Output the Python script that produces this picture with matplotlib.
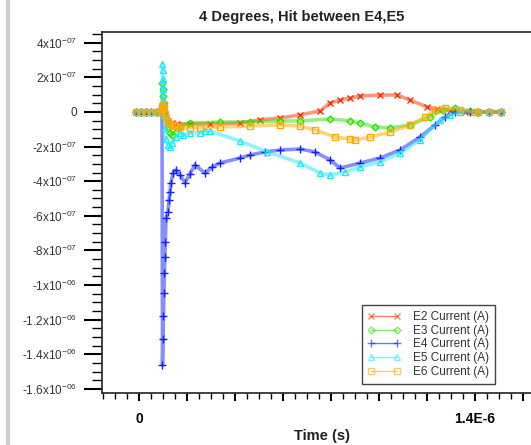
import numpy as np
import matplotlib
matplotlib.use('Agg')
import matplotlib.pyplot as plt
import matplotlib.ticker as ticker
from matplotlib.lines import Line2D

plt.rcParams['font.family'] = ['Liberation Sans', 'DejaVu Sans']
plt.rcParams['mathtext.fontset'] = 'custom'
plt.rcParams['mathtext.rm'] = 'Liberation Sans'
plt.rcParams['mathtext.default'] = 'regular'

# time in microseconds, currents in units of 1e-8 A
t_e2 = [-0.0125, 0.008, 0.029, 0.050, 0.075, 0.096, 0.100, 0.108, 0.121, 0.1375, 0.158, 0.2125,
        0.296, 0.421, 0.504, 0.5875, 0.671, 0.754, 0.796, 0.8375, 0.879, 0.921, 1.004, 1.075,
        1.129, 1.200, 1.242, 1.296, 1.358, 1.4125, 1.458, 1.508]
e2 = [0, 0, 0, 0, 0, 0, 2.9, -1.7, -5.2, -6.4, -6.9, -6.9,
      -6.9, -6.4, -4.6, -3.5, -1.7, 0.6, 5.2, 6.9, 8.1, 9.2, 9.8, 9.8,
      6.9, 2.9, 1.7, 0.6, 0, 0, 0, 0]

t_e3 = [-0.0125, 0.008, 0.029, 0.050, 0.075, 0.096, 0.098, 0.100, 0.102, 0.104, 0.108, 0.121,
        0.129, 0.1375, 0.154, 0.171, 0.2125, 0.3375, 0.4625, 0.5875, 0.671, 0.796, 0.879, 0.921,
        0.983, 1.046, 1.129, 1.2125, 1.267, 1.317, 1.379, 1.4125, 1.458, 1.508]
e3 = [0, 0, 0, 0, 0, 0, 16.8, 13.0, 9.0, 5.0, -1.7, -9.2,
      -12.1, -13.3, -11.6, -8.1, -6.4, -5.8, -5.8, -5.2, -5.2, -4.0, -5.2, -6.4,
      -8.7, -9.2, -7.5, -2.9, 1.2, 2.3, 0.6, 0, 0, 0]

t_e4 = [-0.0125, 0.008, 0.029, 0.050, 0.075, 0.096, 0.098, 0.100, 0.102, 0.104, 0.106, 0.108,
        0.110, 0.1125, 0.121, 0.125, 0.129, 0.133, 0.142, 0.154, 0.171, 0.192, 0.2125, 0.233,
        0.275, 0.304, 0.3375, 0.421, 0.4625, 0.525, 0.5875, 0.671, 0.733, 0.796, 0.8375, 0.921,
        1.004, 1.0875, 1.171, 1.233, 1.275, 1.317, 1.379, 1.4125, 1.458, 1.508]
e4 = [0, 0, 0, 0, 0, 0, -146.2, -131.2, -117.9, -104.6, -93.1, -83.8,
      -75.1, -61.3, -57.8, -50.9, -46.2, -41.0, -35.3, -33.5, -36.4, -41.0, -35.8, -30.6,
      -35.3, -31.8, -29.5, -26.6, -24.9, -23.1, -22.0, -21.4, -23.1, -27.7, -32.4, -29.5,
      -26.6, -22.0, -14.5, -7.5, -2.9, 0, 0, 0, 0, 0]

t_e5 = [-0.0125, 0.008, 0.029, 0.050, 0.075, 0.096, 0.098, 0.099, 0.100, 0.102, 0.104, 0.106,
        0.108, 0.1125, 0.121, 0.129, 0.1375, 0.154, 0.171, 0.183, 0.2125, 0.254, 0.275, 0.296,
        0.421, 0.533, 0.671, 0.754, 0.796, 0.858, 0.921, 1.004, 1.0875, 1.171, 1.254, 1.296,
        1.3375, 1.4125, 1.458, 1.508]
e5 = [0, 0, 0, 0, 0, 0, 27.7, 24.0, 19.0, 13.0, 6.0, -2.0,
      -9.0, -15.6, -19.0, -20.2, -17.9, -14.5, -12.1, -13.3, -12.1, -12.1, -11.0, -11.0,
      -16.8, -23.0, -29.5, -35.3, -36.4, -34.7, -31.8, -28.9, -23.7, -16.2, -4.6, -1.7,
      0, 0, 0, 0]

t_e6 = [-0.0125, 0.008, 0.029, 0.050, 0.075, 0.0875, 0.096, 0.098, 0.100, 0.104, 0.108, 0.1125,
        0.121, 0.129, 0.1375, 0.150, 0.171, 0.2125, 0.254, 0.3375, 0.4625, 0.5875, 0.671, 0.733,
        0.817, 0.879, 0.900, 0.9625, 1.046, 1.129, 1.192, 1.233, 1.275, 1.3375, 1.400, 1.4125,
        1.458, 1.508]
e6 = [0, 0, 0, 0, 0, 0, 0, 3.5, 4.0, 2.3, -1.2, -3.5,
      -5.8, -6.9, -7.5, -8.1, -8.7, -9.2, -9.2, -8.7, -8.1, -7.5, -8.1, -10.4,
      -14.5, -15.6, -16.2, -14.5, -11.6, -7.5, -2.9, 1.2, 2.3, 1.2, 0, 0,
      0, 0]

labels = ['E2 Current (A)', 'E3 Current (A)', 'E4 Current (A)', 'E5 Current (A)', 'E6 Current (A)']
ytick_vals = [4e-7, 2e-7, 0, -2e-7, -4e-7, -6e-7, -8e-7, -1e-6, -1.2e-6, -1.4e-6, -1.6e-6]
ytick_labels = ['4x10$^{-07}$', '2x10$^{-07}$', '0', '-2x10$^{-07}$', '-4x10$^{-07}$',
                '-6x10$^{-07}$', '-8x10$^{-07}$', '-1x10$^{-06}$', '-1.2x10$^{-06}$',
                '-1.4x10$^{-06}$', '-1.6x10$^{-06}$']
xtick_vals = [0, 2e-7, 4e-7, 6e-7, 8e-7, 1e-6, 1.2e-6, 1.4e-6, 1.6e-6]
xtick_labels = ['0', '', '', '', '', '', '', '1.4E-6', '']

series = [(t_e2, e2), (t_e3, e3), (t_e4, e4), (t_e5, e5), (t_e6, e6)]
colors = ['#ff3000', '#2ee000', '#1020ff', '#20e8ff', '#ffaa00']
markers = ['x', 'D', '+', '^', 's']
msizes = [4, 3.5, 6, 4.5, 4.5]

W, H = 531, 445
fig = plt.figure(figsize=(W / 100, H / 100), dpi=100)
ax = fig.add_axes([102 / W, 1 - 393 / H, (W - 102) / W, 361 / H])

for (t, v), c, m, ms in zip(series, colors, markers, msizes):
    t = np.array(t) * 1e-6
    v = np.array(v) * 1e-8
    ax.plot(t, v, '-', color=c, lw=2.6, alpha=0.5, solid_capstyle='round')
    ax.plot(t, v, linestyle='none', marker=m, color=c, ms=ms, mew=1.0,
            markerfacecolor='none' if m in ('D', '^', 's') else c)

ax.set_xlim(-1.54e-7, 1.633e-6)
ax.set_ylim(-1.624e-6, 4.62e-7)

ax.xaxis.set_major_locator(ticker.FixedLocator(xtick_vals))
ax.xaxis.set_major_formatter(ticker.FixedFormatter(xtick_labels))
ax.xaxis.set_minor_locator(ticker.MultipleLocator(5e-8))
ax.yaxis.set_major_locator(ticker.FixedLocator(ytick_vals))
ax.yaxis.set_major_formatter(ticker.FixedFormatter(ytick_labels))
ax.yaxis.set_minor_locator(ticker.MultipleLocator(5e-8))

ax.tick_params(axis='x', which='major', direction='out', length=6, width=1.5, pad=8,
               labelsize=10)
ax.tick_params(axis='x', which='minor', direction='out', length=4, width=1)
ax.tick_params(axis='y', which='major', direction='out', length=13, width=1.5, pad=5,
               labelsize=8.5, labelcolor='#333333')
ax.tick_params(axis='y', which='minor', direction='out', length=7, width=1)
for lab in ax.get_xticklabels():
    lab.set_fontweight('bold')

ax.spines['right'].set_visible(False)
for s in ('left', 'bottom', 'top'):
    ax.spines[s].set_linewidth(1.3)
    ax.spines[s].set_color('#333333')

fig.text(302 / W, 1 - 17 / H, '4 Degrees, Hit between E4,E5', ha='center', va='center',
         fontsize=10.5, fontweight='bold', color='#222222')
fig.text(322 / W, 1 - 436 / H, 'Time (s)', ha='center', va='center',
         fontsize=10.5, fontweight='bold', color='#222222')

handles = [Line2D([], [], color=c, lw=1, alpha=0.6, marker=m, ms=ms, mew=1,
                  markeredgecolor=c, markerfacecolor='none' if m in ('D', '^', 's') else c)
           for c, m, ms in zip(colors, markers, msizes)]
leg = fig.legend(handles, labels, loc='upper left', bbox_to_anchor=(362 / W, 1 - 305 / H),
                 bbox_transform=fig.transFigure, borderaxespad=0, fontsize=8.5,
                 numpoints=2, handlelength=2.8, handletextpad=1.0, labelspacing=0.15,
                 borderpad=0.5, fancybox=False, framealpha=1)
leg.get_frame().set_edgecolor('#444444')
leg.get_frame().set_linewidth(1)
for txt in leg.get_texts():
    txt.set_color('#333333')

# grey border strip at the left edge of the screenshot
fig.add_artist(Line2D([8 / W, 8 / W], [0, 1], color='#cccccc', lw=3,
                      transform=fig.transFigure))

fig.savefig('out.png', dpi=100)
